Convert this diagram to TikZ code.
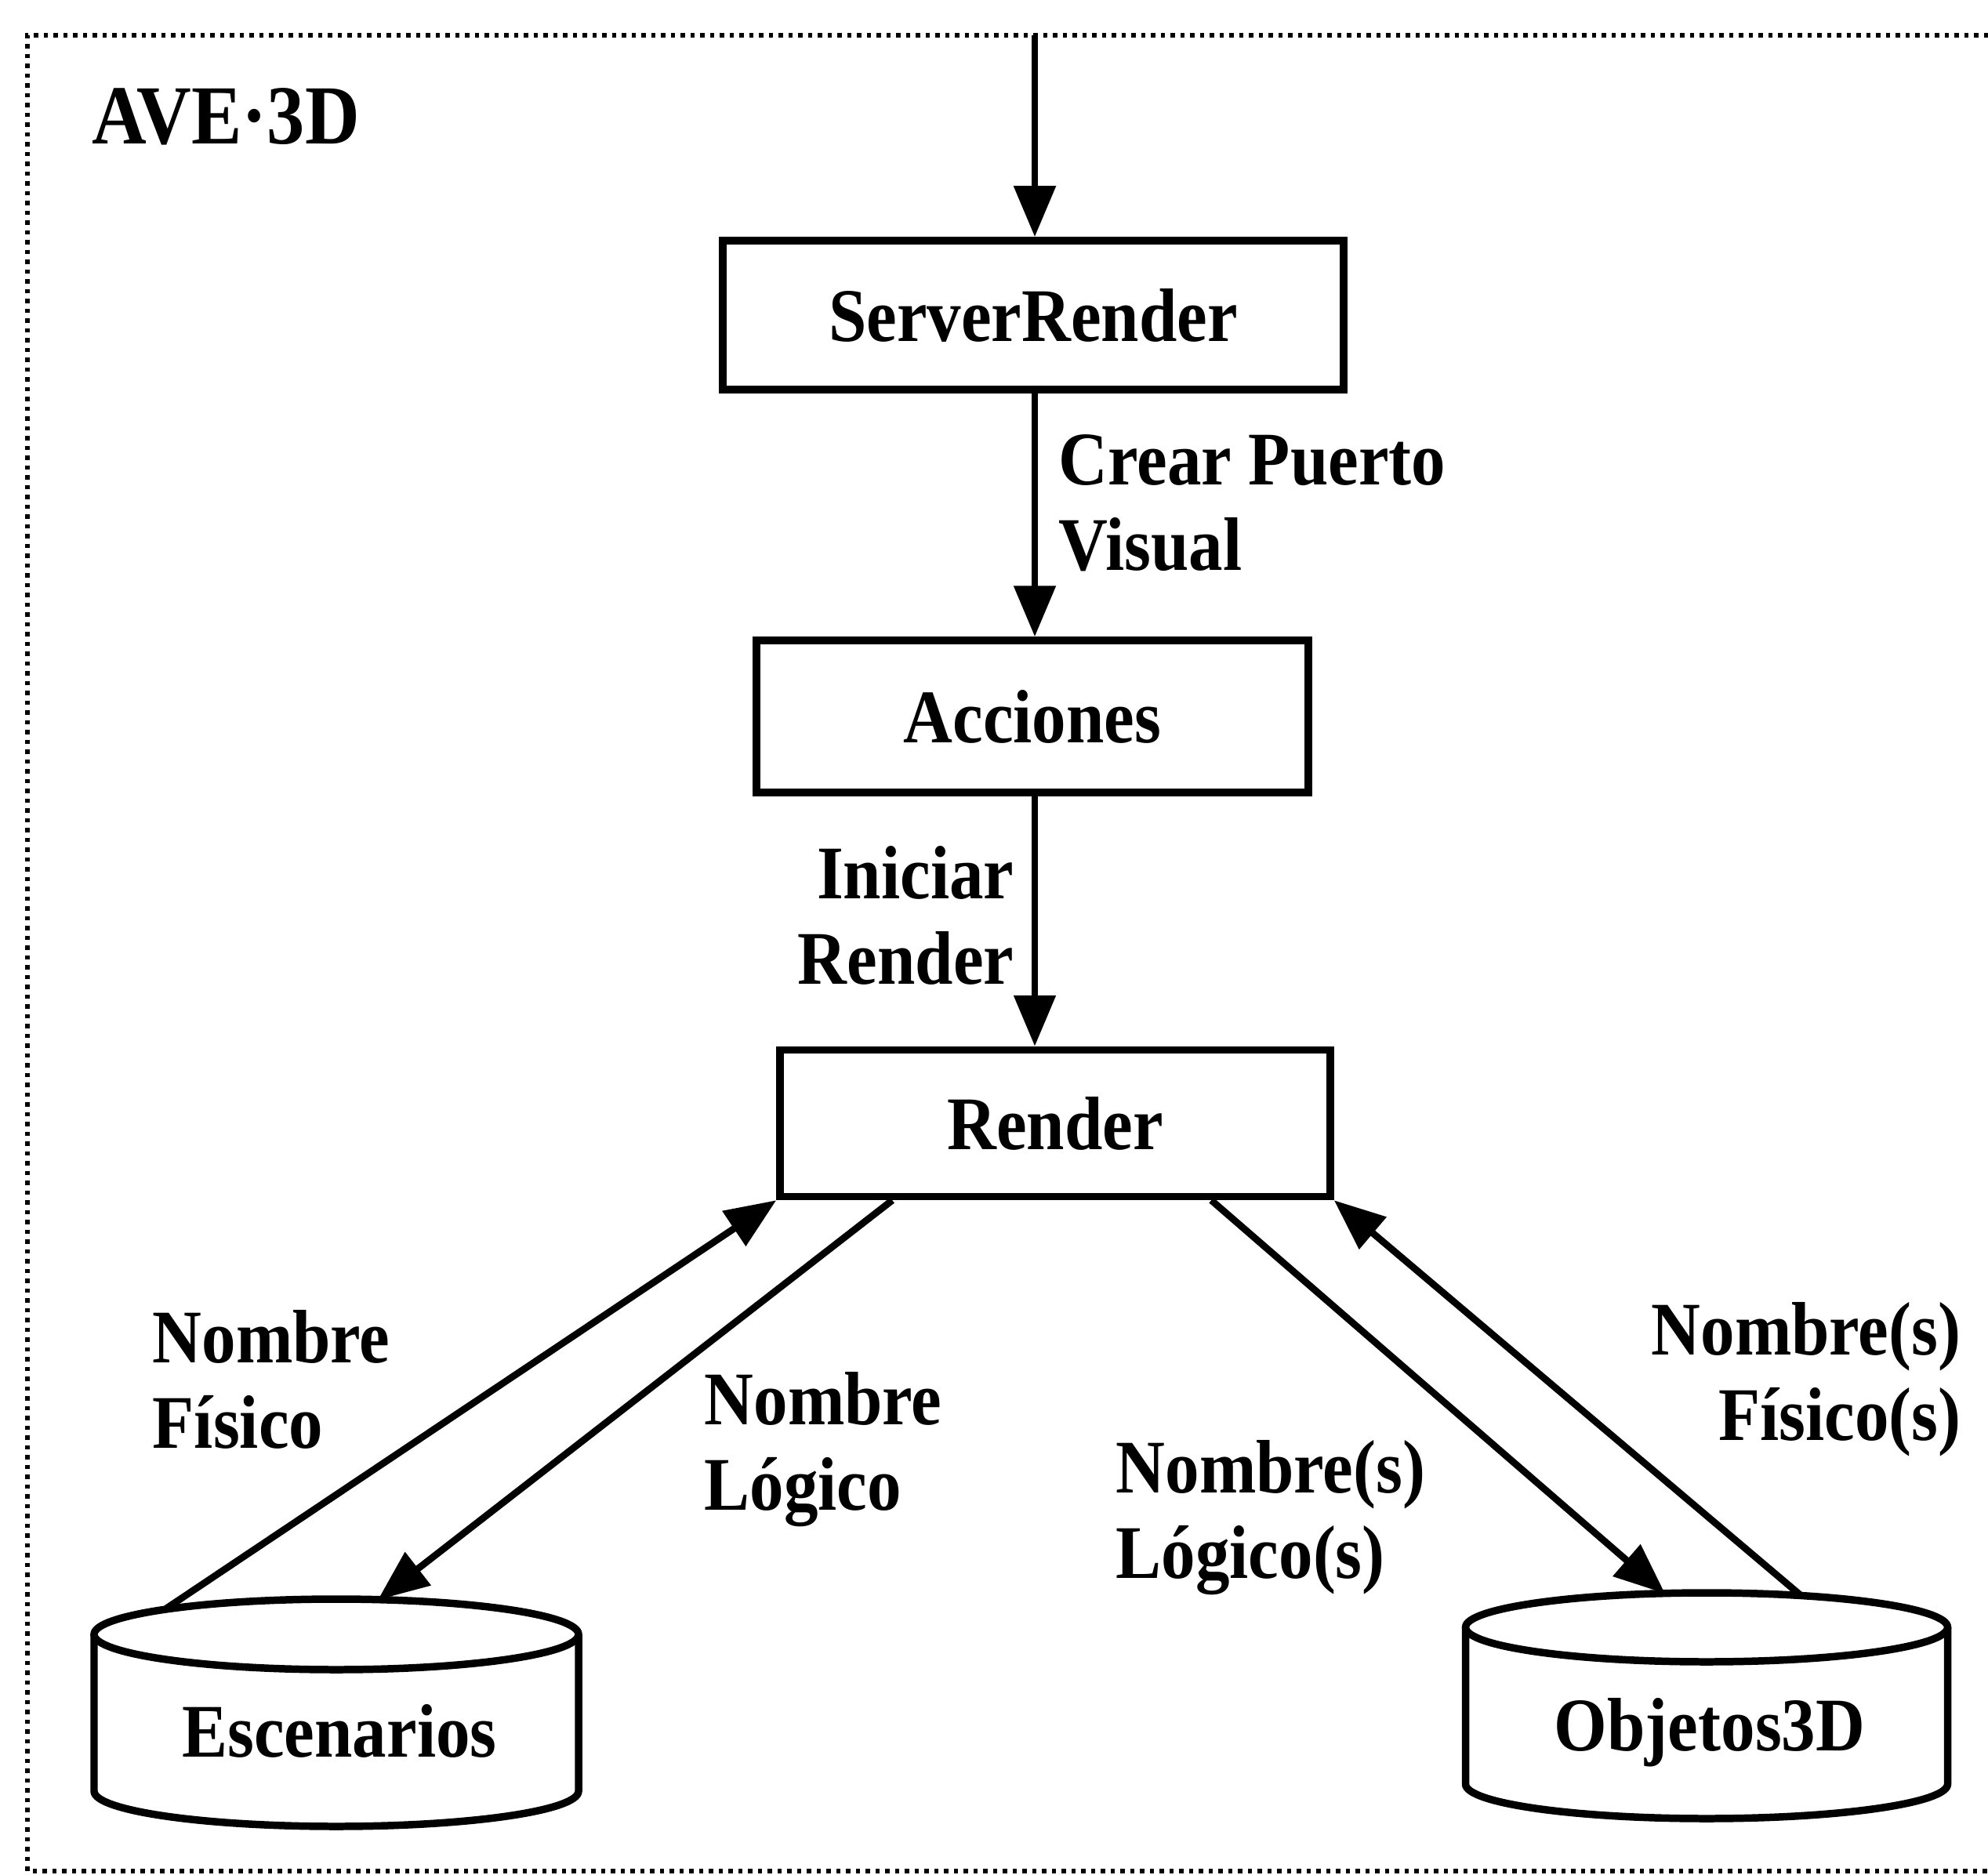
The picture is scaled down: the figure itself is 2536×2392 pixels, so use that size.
\documentclass[tikz,border=0pt]{standalone}
\usepackage{fontspec}
\setmainfont{Liberation Serif}[FakeStretch=0.9]
\usetikzlibrary{arrows.meta,calc}
\begin{document}
\begin{tikzpicture}[x=0.1mm,y=-0.1mm,
  txt/.style={font=\fontsize{27.5}{31}\selectfont\bfseries},
  box/.style={draw, line width=2.7pt, txt, inner sep=0pt},
  flow/.style={line width=2.5pt, -{Triangle[length=6.5mm,width=5.2mm]}},
  lbl/.style={txt, inner sep=0pt},
  db/.style={line width=2.7pt},
  frame/.style={line width=1.9pt, dash pattern=on 0.55mm off 0.7mm}]
\useasboundingbox (0,0) rectangle (2536,2392);

% dotted system boundary (open on the right)
\draw[frame] (2536,45) -- (35,45) -- (35,2387) -- (2536,2387);
\node[lbl, font=\fontsize{30.5}{34}\selectfont\bfseries] (title) at (288,149) {AVE·3D};

% process boxes
\node[box, minimum width=79.2mm, minimum height=19mm] (sr) at (1318,402) {ServerRender};
\node[box, minimum width=70.4mm, minimum height=19.4mm] (ac) at (1317,914) {Acciones};
\node[box, minimum width=70.2mm, minimum height=18.7mm] (rd) at (1346,1433) {Render};

% main vertical flow
\coordinate (entry) at (1320,45);
\draw[flow] (entry) -- (entry |- sr.north);
\draw[flow] (sr.south -| entry) -- (ac.north -| entry);
\draw[flow] (ac.south -| entry) -- (rd.north -| entry);

% data stores
\draw[db] (429,2085) ellipse [x radius=30.9mm, y radius=4.5mm];
\draw[db] (120,2085) -- (120,2285) arc[start angle=180, end angle=360, x radius=30.9mm, y radius=4.5mm] -- (738,2085);
\node[lbl] (esc) at (433,2208) {Escenarios};

\draw[db] (2177,2076) ellipse [x radius=30.75mm, y radius=4.4mm];
\draw[db] (1869.5,2076) -- (1869.5,2276) arc[start angle=180, end angle=360, x radius=30.75mm, y radius=4.4mm] -- (2484.5,2076);
\node[lbl] (obj) at (2181,2210) {Objetos3D};

% connection points on the store lids
\coordinate (esc-out) at (212,2052);
\coordinate (esc-in) at (482,2041);
\coordinate (obj-in) at (2124,2033);
\coordinate (obj-out) at (2298,2036);

\draw[flow] (esc-out) -- (rd.south west);
\draw[flow] ($(rd.south west)!0.208!(rd.south east)$) -- (esc-in);
\draw[flow] ($(rd.south west)!0.78!(rd.south east)$) -- (obj-in);
\draw[flow] (obj-out) -- (rd.south east);

% flow labels
\node[lbl, anchor=west, align=left] (l1) at (1350,642) {Crear Puerto\\Visual};
\node[lbl, anchor=east, align=right] (l2) at (1294,1168) {Iniciar\\Render};
\node[lbl, anchor=west, align=left] (l3) at (194,1760) {Nombre\\Físico};
\node[lbl, anchor=west, align=left] (l4) at (898,1849) {Nombre\\Lógico};
\node[lbl, anchor=west, align=left] (l5) at (1423,1936) {Nombre(s)\\Lógico(s)};
\node[lbl, anchor=east, align=right] (l6) at (2502,1760) {Nombre(s)\\Físico(s)};
\end{tikzpicture}
\end{document}
